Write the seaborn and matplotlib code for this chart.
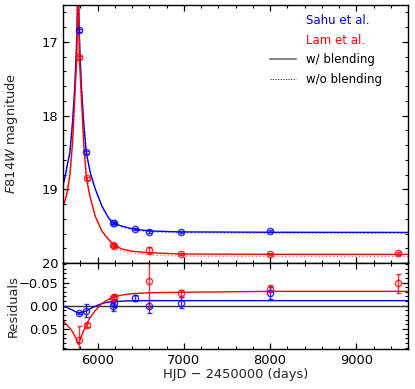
import matplotlib
matplotlib.use("Agg")
import matplotlib.pyplot as plt
from matplotlib.lines import Line2D
from matplotlib.ticker import MultipleLocator
import pandas as pd
import seaborn as sns

# observed points (HJD - 2450000)
sahu_t = [5787, 5871, 6183, 6192, 6432, 6594, 6963, 7995]
sahu_mag = [16.84, 18.50, 19.456, 19.462, 19.537, 19.574, 19.578, 19.564]
sahu_mag_err = [0.02, 0.02, 0.015, 0.015, 0.015, 0.015, 0.015, 0.015]
sahu_res = [0.0156, 0.0107, 0.0013, -0.005, -0.017, 0.0013, -0.007, -0.027]
sahu_res_err = [0.003, 0.014, 0.009, 0.008, 0.007, 0.014, 0.011, 0.0125]

lam_t = [5790, 5873, 6183, 6192, 6594, 6963, 7995, 9480]
lam_mag = [17.21, 18.85, 19.755, 19.765, 19.83, 19.88, 19.877, 19.87]
lam_mag_err = [0.02, 0.02, 0.015, 0.015, 0.05, 0.015, 0.015, 0.015]
lam_res = [0.0726, 0.0406, -0.0158, -0.0194, -0.0534, -0.0265, -0.037, -0.048]
lam_res_err = [0.030, 0.004, 0.005, 0.005, 0.056, 0.008, 0.007, 0.021]

# model curves (w/ blending, w/o blending, and their difference)
sahu_model_t = [5600, 5610, 5633, 5648, 5679, 5710, 5737, 5750, 5763, 5769, 5775, 5781, 5787, 5800,
                5813, 5840, 5871, 5917, 5975, 6052, 6129, 6187, 6283, 6398, 6594, 6963, 8000, 9600]
sahu_blend = [18.95, 18.90, 18.78, 18.68, 18.51, 18.10, 17.60, 17.25, 16.84, 16.50, 16.00, 16.50, 16.84, 17.25,
              17.60, 18.10, 18.51, 18.78, 19.00, 19.23, 19.39, 19.46, 19.50, 19.535, 19.565, 19.578, 19.583, 19.585]
sahu_noblend = [18.949, 18.898, 18.777, 18.676, 18.503, 18.091, 17.588, 17.237, 16.826, 16.485, 15.984, 16.484,
                16.824, 17.235, 17.586, 18.087, 18.499, 18.774, 18.999, 19.235, 19.398, 19.469, 19.51, 19.546,
                19.576, 19.589, 19.594, 19.596]
sahu_model_diff = [0.001, 0.002, 0.003, 0.004, 0.007, 0.009, 0.012, 0.013, 0.014, 0.015, 0.016, 0.016, 0.016, 0.015,
                   0.014, 0.013, 0.011, 0.006, 0.001, -0.005, -0.008, -0.009, -0.010, -0.0105, -0.011, -0.011,
                   -0.011, -0.011]

lam_model_t = [5600, 5610, 5633, 5650, 5679, 5709, 5735, 5750, 5760, 5768, 5775, 5782, 5790, 5800, 5815,
               5841, 5871, 5900, 5917, 5975, 6052, 6129, 6194, 6283, 6398, 6594, 6963, 8000, 9600]
lam_blend = [19.24, 19.20, 19.12, 19.03, 18.82, 18.40, 17.80, 17.45, 17.21, 16.50, 15.80, 16.50, 17.21, 17.45, 17.80,
             18.40, 18.84, 19.03, 19.12, 19.37, 19.57, 19.68, 19.755, 19.81, 19.84, 19.86, 19.878, 19.882, 19.883]
lam_noblend = [19.208, 19.166, 19.082, 18.988, 18.772, 18.344, 17.736, 17.38, 17.135, 16.421, 15.717, 16.419,
               17.133, 17.378, 17.735, 18.347, 18.799, 19.0, 19.095, 19.36, 19.575, 19.694, 19.774, 19.833,
               19.866, 19.888, 19.907, 19.913, 19.914]
lam_model_diff = [0.032, 0.034, 0.038, 0.042, 0.048, 0.056, 0.064, 0.070, 0.075, 0.079, 0.083, 0.081, 0.077, 0.072,
                  0.065, 0.053, 0.041, 0.030, 0.025, 0.010, -0.005, -0.014, -0.019, -0.023, -0.026, -0.028,
                  -0.029, -0.031, -0.031]

BLUE = "#0000ff"
RED = "#ff0000"


def style_axis(ax):
    ax.tick_params(which="both", direction="in", top=True, right=True, labelsize=9.4, colors="black")
    ax.tick_params(which="major", length=4.5, width=0.9)
    ax.tick_params(which="minor", length=2.5, width=0.8)
    for sp in ax.spines.values():
        sp.set_color("black")
        sp.set_linewidth(1.0)


def main():
    sns.set_style("ticks")
    plt.rcParams["font.family"] = ["DejaVu Sans"]
    plt.rcParams["mathtext.fontset"] = "dejavusans"

    fig = plt.figure(figsize=(4.15, 3.89), dpi=100)
    ax = fig.add_axes([63 / 415, 1 - 263 / 389, 345 / 415, 258 / 389])
    axr = fig.add_axes([63 / 415, 1 - 349 / 389, 345 / 415, 86 / 389], sharex=ax)

    sahu = pd.DataFrame({"t": sahu_model_t, "w": sahu_blend, "wo": sahu_noblend, "d": sahu_model_diff})
    lam = pd.DataFrame({"t": lam_model_t, "w": lam_blend, "wo": lam_noblend, "d": lam_model_diff})

    for df, col in [(sahu, BLUE), (lam, RED)]:
        sns.lineplot(data=df, x="t", y="wo", ax=ax, color=col, lw=1.0, ls=":", alpha=0.55,
                     sort=False, estimator=None)
        sns.lineplot(data=df, x="t", y="w", ax=ax, color=col, lw=1.0, sort=False, estimator=None)
        sns.lineplot(data=df, x="t", y="d", ax=axr, color=col, lw=1.0, sort=False, estimator=None)

    for t, m, me, r, re_, col in [(sahu_t, sahu_mag, sahu_mag_err, sahu_res, sahu_res_err, BLUE),
                                  (lam_t, lam_mag, lam_mag_err, lam_res, lam_res_err, RED)]:
        ax.errorbar(t, m, yerr=me, fmt="o", ms=4.5, mfc="none", mec=col, mew=1.0, ecolor=col,
                    elinewidth=1.0, capsize=1.8, alpha=0.8, zorder=5)
        axr.errorbar(t, r, yerr=re_, fmt="o", ms=4.5, mfc="none", mec=col, mew=1.0, ecolor=col,
                     elinewidth=1.0, capsize=1.8, alpha=0.8, zorder=5)

    axr.axhline(0, color="#333333", lw=1.0, zorder=1)

    ax.set_xlim(5600, 9600)
    ax.set_ylim(20, 16.5)
    ax.set_yticks([17, 18, 19, 20])
    ax.yaxis.set_minor_locator(MultipleLocator(0.2))
    ax.xaxis.set_major_locator(MultipleLocator(1000))
    ax.xaxis.set_minor_locator(MultipleLocator(200))
    ax.tick_params(labelbottom=False)
    ax.set_xlabel("")
    ax.set_ylabel(r"$F814W$ magnitude", fontsize=9.4)

    axr.set_ylim(0.093, -0.092)
    axr.set_yticks([-0.05, 0.0, 0.05])
    axr.yaxis.set_minor_locator(MultipleLocator(0.01))
    axr.set_xlabel("HJD − 2450000 (days)", fontsize=9.4, labelpad=1)
    axr.set_ylabel("Residuals", fontsize=9.4)

    ax.yaxis.set_label_coords(-0.124, 0.5)
    axr.yaxis.set_label_coords(-0.124, 0.5)

    style_axis(ax)
    style_axis(axr)

    handles = [Line2D([], [], color="none"), Line2D([], [], color="none"),
               Line2D([], [], color="#888888", lw=1.5), Line2D([], [], color="black", lw=0.7, ls=":")]
    labels = ["Sahu et al.", "Lam et al.", "w/ blending", "w/o blending"]
    leg = ax.legend(handles, labels, loc="upper right", bbox_to_anchor=(0.955, 1.006), frameon=False,
                    fontsize=8.5, handlelength=2.2, handletextpad=0.8, labelspacing=0.56)
    for txt, col in zip(leg.get_texts(), [BLUE, RED, "black", "black"]):
        txt.set_color(col)

    fig.savefig("out.png", dpi=100)


if __name__ == "__main__":
    main()
